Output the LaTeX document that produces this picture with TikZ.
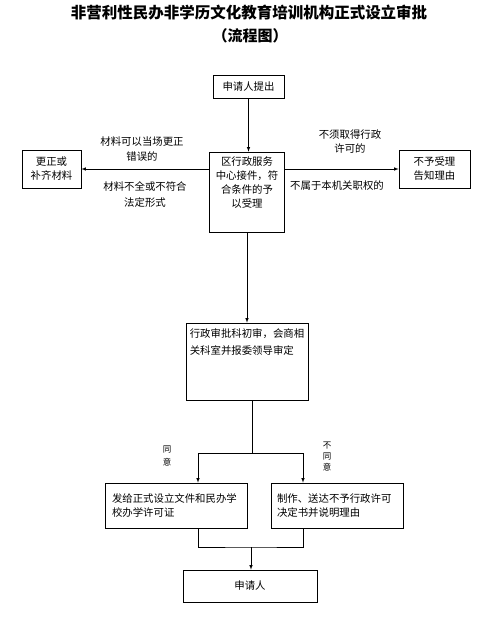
\documentclass[tikz,border=0pt]{standalone}
\usepackage{fontspec}
\setmainfont{Noto Sans CJK SC}
\usetikzlibrary{shapes,arrows,positioning}

\begin{document}
\begin{tikzpicture}[
    x=1pt, y=-1pt,
    block/.style={draw, rectangle, line width=0.6pt, inner sep=0pt, font=\fontsize{10.4}{14}\selectfont, align=center},
    txt/.style={inner sep=0pt, font=\fontsize{10.4}{14}\selectfont, align=center},
    note/.style={txt, font=\fontsize{10.4}{15.5}\selectfont},
    small/.style={inner sep=0pt, font=\fontsize{8.5}{12}\selectfont, align=center},
    line/.style={line width=0.6pt},
    arrow/.style={line, ->, >=latex}
]
\useasboundingbox (0,0) rectangle (499,627);

% Title
\node[font=\fontsize{15.5}{18}\selectfont\bfseries] (title) at (249,13) {非营利性民办非学历文化教育培训机构正式设立审批};
\node[font=\fontsize{15}{18}\selectfont\bfseries] (subtitle) at (250,36) {（流程图）};

% Acceptance
\node[block, minimum width=71, minimum height=23] (apply) at (248.5,86.5) {申请人提出};
\node[block, minimum width=75, minimum height=80] (accept) at (247,192) {};
\node[txt, below=5pt of accept.north] (accepttxt) {区行政服务\\中心接件，符\\合条件的予\\以受理};
\node[block, minimum width=59, minimum height=38] (fix) at (51.5,169) {更正或\\补齐材料};
\node[block, minimum width=71, minimum height=38] (refuse) at (434.5,169) {不予受理\\告知理由};

% Branch labels
\node[note] (fixok) at (142,149) {材料可以当场更正\\错误的};
\node[note] (fixbad) at (145,194.5) {材料不全或不符合\\法定形式};
\node[note, font=\fontsize{10.4}{14}\selectfont] (noneed) at (350,142) {不须取得行政\\许可的};
\node[note] (notours) at (337,186) {不属于本机关职权的};

% Review
\node[block, minimum width=122, minimum height=77] (review) at (247,361.5) {};
\node[txt, align=left, font=\fontsize{10.4}{17}\selectfont, below=6pt of review.north] (reviewtxt) {行政审批科初审，会商相\\关科室并报委领导审定};

% Decision
\node[block, align=left, minimum width=142, minimum height=45, inner xsep=7pt, text width=128pt] (grant) at (176,505.5) {发给正式设立文件和民办学\\校办学许可证};
\node[block, align=left, minimum width=132, minimum height=45, inner xsep=6pt, text width=120pt] (reject) at (337,505.5) {制作、送达不予行政许可\\决定书并说明理由};
\node[block, minimum width=134, minimum height=32] (applicant) at (250,586) {申请人};

\node[small, font=\fontsize{8.5}{13}\selectfont] (agree) at (167,455.5) {同\\意};
\node[small, font=\fontsize{8.5}{11}\selectfont] (disagree) at (327,457) {不\\同\\意};

\coordinate (split) at (252,453);
\coordinate (yestop) at (198,453);
\coordinate (notop) at (303,453);
\coordinate (join) at (251,547);

% Arrows
\draw[arrow] (apply.south) -- (apply.south |- accept.north);
\draw[arrow] (accept.west |- fix.east) -- (fix.east);
\draw[arrow] (accept.east |- refuse.west) -- (refuse.west);
\draw[arrow] (accept.south) -- (review.north);
\draw[line] (review.south -| split) -- (split);
\draw[line] (yestop) -- (notop);
\draw[arrow] (yestop) -- (yestop |- grant.north);
\draw[arrow] (notop) -- (notop |- reject.north);
\draw[line] (grant.south -| yestop) |- (join) -| (reject.south -| notop);
\draw[arrow] (join) -- (join |- applicant.north);
\end{tikzpicture}
\end{document}
